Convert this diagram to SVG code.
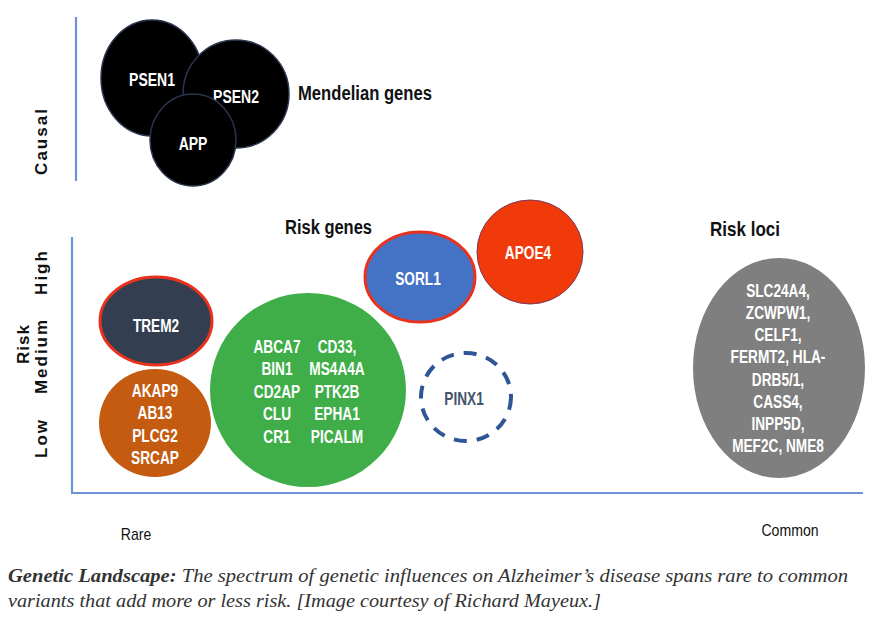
<svg xmlns="http://www.w3.org/2000/svg" width="889" height="628" viewBox="0 0 889 628">
<style>
.ax{stroke:#6f91d6;stroke-width:2.2;fill:none}
.lbl{font-family:"Liberation Sans",Arial,sans-serif;font-weight:bold;fill:#fff;font-size:17.5px;text-anchor:middle}
.title{font-family:"Liberation Sans",Arial,sans-serif;font-weight:bold;fill:#111;font-size:20px}
.yl{font-family:"Liberation Sans",Arial,sans-serif;font-weight:bold;fill:#111;font-size:17px;text-anchor:middle;letter-spacing:2px}
.xl{font-family:"Liberation Sans",Arial,sans-serif;fill:#111;font-size:16px;text-anchor:middle}
.cap{font-family:"Liberation Serif","Times New Roman",serif;font-style:italic;fill:#333;font-size:19px}
</style>
<rect width="889" height="628" fill="#fff"/>
<g id="axes">
<line class="ax" x1="76" y1="17" x2="76" y2="181"/>
<line class="ax" x1="72" y1="237" x2="72" y2="493"/>
<line class="ax" x1="71" y1="493" x2="863" y2="493"/>
</g>
<g id="axis-labels">
<text class="yl" transform="translate(47,141) rotate(-90)">Causal</text>
<text class="yl" font-size="18" style="letter-spacing:1px" transform="translate(29,344) rotate(-90)">Risk</text>
<text class="yl" transform="translate(47,272) rotate(-90)">High</text>
<text class="yl" transform="translate(47,356) rotate(-90)">Medium</text>
<text class="yl" transform="translate(47,438) rotate(-90)">Low</text>
<g transform="translate(136,0) scale(0.88,1)"><text class="xl" x="0" y="540">Rare</text></g>
<g transform="translate(790,0) scale(0.88,1)"><text class="xl" x="0" y="536">Common</text></g>
</g>
<g id="psen1"><ellipse cx="152" cy="78" rx="51" ry="58" fill="#000" stroke="#2a3550" stroke-width="1.5"/><g transform="translate(152,0) scale(0.8,1)"><text class="lbl" x="0" y="86">PSEN1</text></g></g>
<g id="psen2"><ellipse cx="236" cy="94" rx="53" ry="54" fill="#000" stroke="#2a3550" stroke-width="1.5"/><g transform="translate(236,0) scale(0.8,1)"><text class="lbl" x="0" y="103">PSEN2</text></g></g>
<g id="app"><ellipse cx="193" cy="140" rx="43" ry="46" fill="#000" stroke="#2a3550" stroke-width="1.5"/><g transform="translate(193,0) scale(0.8,1)"><text class="lbl" x="0" y="150">APP</text></g></g>
<text class="title" x="298" y="100" textLength="134" lengthAdjust="spacingAndGlyphs">Mendelian genes</text>
<text class="title" x="285" y="234" textLength="87" lengthAdjust="spacingAndGlyphs">Risk genes</text>
<text class="title" x="710" y="236" textLength="70" lengthAdjust="spacingAndGlyphs">Risk loci</text>
<g id="trem2"><ellipse cx="156" cy="321" rx="56" ry="44" fill="#333f50" stroke="#e8321e" stroke-width="3"/><g transform="translate(156,0) scale(0.78,1)"><text class="lbl" x="0" y="332">TREM2</text></g></g>
<g id="rare-low"><ellipse cx="155" cy="423" rx="56" ry="54" fill="#c55a11"/>
<g transform="translate(155,0) scale(0.78,1)"><text class="lbl" x="0" y="397">AKAP9</text><text class="lbl" x="0" y="419">AB13</text><text class="lbl" x="0" y="442">PLCG2</text><text class="lbl" x="0" y="464">SRCAP</text></g></g>
<g id="green"><ellipse cx="308" cy="390" rx="98" ry="97" fill="#3fae49"/>
<g transform="translate(277,0) scale(0.78,1)"><text class="lbl" x="0" y="353">ABCA7</text><text class="lbl" x="0" y="375">BIN1</text><text class="lbl" x="0" y="398">CD2AP</text><text class="lbl" x="0" y="420">CLU</text><text class="lbl" x="0" y="443">CR1</text></g>
<g transform="translate(337,0) scale(0.78,1)"><text class="lbl" x="0" y="353">CD33,</text><text class="lbl" x="0" y="375">MS4A4A</text><text class="lbl" x="0" y="398">PTK2B</text><text class="lbl" x="0" y="420">EPHA1</text><text class="lbl" x="0" y="443">PICALM</text></g></g>
<g id="sorl1"><ellipse cx="420" cy="277" rx="55" ry="45" fill="#4472c4" stroke="#e8321e" stroke-width="3"/><g transform="translate(418,0) scale(0.78,1)"><text class="lbl" x="0" y="285">SORL1</text></g></g>
<g id="apoe4"><ellipse cx="530" cy="252" rx="53" ry="52" fill="#f03a0a" stroke="#7a3a5a" stroke-width="1"/><g transform="translate(528,0) scale(0.78,1)"><text class="lbl" x="0" y="259">APOE4</text></g></g>
<g id="pinx1"><ellipse cx="466" cy="397" rx="45" ry="44" fill="none" stroke="#2f5597" stroke-width="4" stroke-dasharray="13 10"/><g transform="translate(464,0) scale(0.78,1)"><text class="lbl" x="0" y="405" style="fill:#44546a">PINX1</text></g></g>
<g id="loci"><ellipse cx="779" cy="368" rx="86" ry="110" fill="#7f7f7f"/>
<g transform="translate(778,0) scale(0.78,1)"><text class="lbl" x="0" y="297">SLC24A4,</text><text class="lbl" x="0" y="319">ZCWPW1,</text><text class="lbl" x="0" y="341">CELF1,</text><text class="lbl" x="0" y="363">FERMT2, HLA-</text><text class="lbl" x="0" y="386">DRB5/1,</text><text class="lbl" x="0" y="408">CASS4,</text><text class="lbl" x="0" y="430">INPP5D,</text><text class="lbl" x="0" y="452">MEF2C, NME8</text></g></g>
<g id="caption">
<text class="cap" x="8" y="582" textLength="840" lengthAdjust="spacingAndGlyphs"><tspan font-weight="bold">Genetic Landscape:</tspan> The spectrum of genetic influences on Alzheimer’s disease spans rare to common</text>
<text class="cap" x="8" y="607" textLength="593" lengthAdjust="spacingAndGlyphs">variants that add more or less risk. [Image courtesy of Richard Mayeux.]</text>
</g>
</svg>
